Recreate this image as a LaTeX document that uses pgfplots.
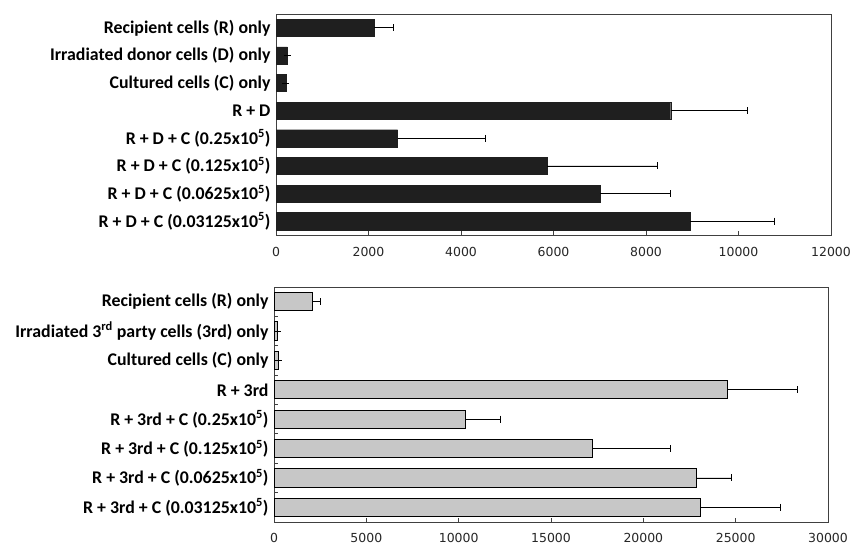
\documentclass[border=0pt]{standalone}
\usepackage{fontspec}
\setmainfont{Carlito}
\newfontfamily\tickfont{DejaVu Sans}
\usepackage{pgfplots}
\pgfplotsset{compat=1.18}
\pgfplotsset{
  common/.style={
    scale only axis, xbar, bar width=0.62,
    y dir=reverse, ytick={0,...,7},
    axis line style={black!75, line width=0.8bp},
    tick align=inside, xtick pos=left, ytick pos=left,
    major tick length=4bp, minor tick length=4bp,
    major y tick style={draw=none},
    x tick style={black!75, line width=0.8bp},
    scaled ticks=false,
    /pgf/number format/assume math mode=true,
    /pgf/number format/1000 sep={},
    xticklabel style={font=\tickfont\fontsize{12.5}{13}\selectfont, text=black!85},
    yticklabel style={font=\bfseries\fontsize{17.9}{19}\selectfont, xshift=-2bp},
    clip=false,
  },
  errs/.style={error bars/.cd, x dir=plus, x explicit,
    error bar style={black, line width=0.8bp},
    error mark options={rotate=90, mark size=3.5bp, black, line width=0.8bp}},
}
\begin{document}
\begin{tikzpicture}[x=1bp,y=1bp]
\useasboundingbox (0,0) rectangle (850,-547);
\begin{axis}[common,
  at={(276bp,-14bp)}, anchor=north west,
  width=555bp, height=221bp,
  xmin=0, xmax=12000, ymin=-0.5, ymax=7.5,
  xtick={0,2000,...,12000},
  xticklabel style={yshift=-9bp},
  yticklabels={Recipient cells (R) only, Irradiated donor cells (D) only, Cultured cells (C) only, R + D,
    R + D + C (0.25x10\textsuperscript{5}), R + D + C (0.125x10\textsuperscript{5}),
    R + D + C (0.0625x10\textsuperscript{5}), R + D + C (0.03125x10\textsuperscript{5})},
]
\addplot[fill=black!88, draw=black!88, errs] coordinates {
  (2119,0) +- (426,0)
  (245,1) +- (0,0)
  (216,2) +- (0,0)
  (8534,3) +- (1657,0)
  (2631,4) +- (1888,0)
  (5860,5) +- (2393,0)
  (7012,6) +- (1514,0)
  (8959,7) +- (1816,0)
};
\end{axis}
\begin{axis}[common,
  at={(274bp,-287bp)}, anchor=north west,
  width=554bp, height=235bp,
  xmin=0, xmax=30000, ymin=-0.5, ymax=7.5,
  xtick={0,5000,...,30000},
  minor ytick={0.5,1.5,...,6.5},
  minor y tick style={black!75, line width=0.8bp},
  xticklabel style={yshift=-7.5bp},
  yticklabels={Recipient cells (R) only, Irradiated 3\textsuperscript{rd} party cells (3rd) only, Cultured cells (C) only, R + 3rd,
    R + 3rd + C (0.25x10\textsuperscript{5}), R + 3rd + C (0.125x10\textsuperscript{5}),
    R + 3rd + C (0.0625x10\textsuperscript{5}), R + 3rd + C (0.03125x10\textsuperscript{5})},
]
\addplot[fill=black!22, draw=black, line width=1bp, errs] coordinates {
  (2095,0) +- (433,0)
  (180,1) +- (0,0)
  (250,2) +- (0,0)
  (24580,3) +- (3753,0)
  (10395,4) +- (1841,0)
  (17271,5) +- (4186,0)
  (22902,6) +- (1841,0)
  (23082,7) +- (4330,0)
};
\end{axis}
\end{tikzpicture}
\end{document}
